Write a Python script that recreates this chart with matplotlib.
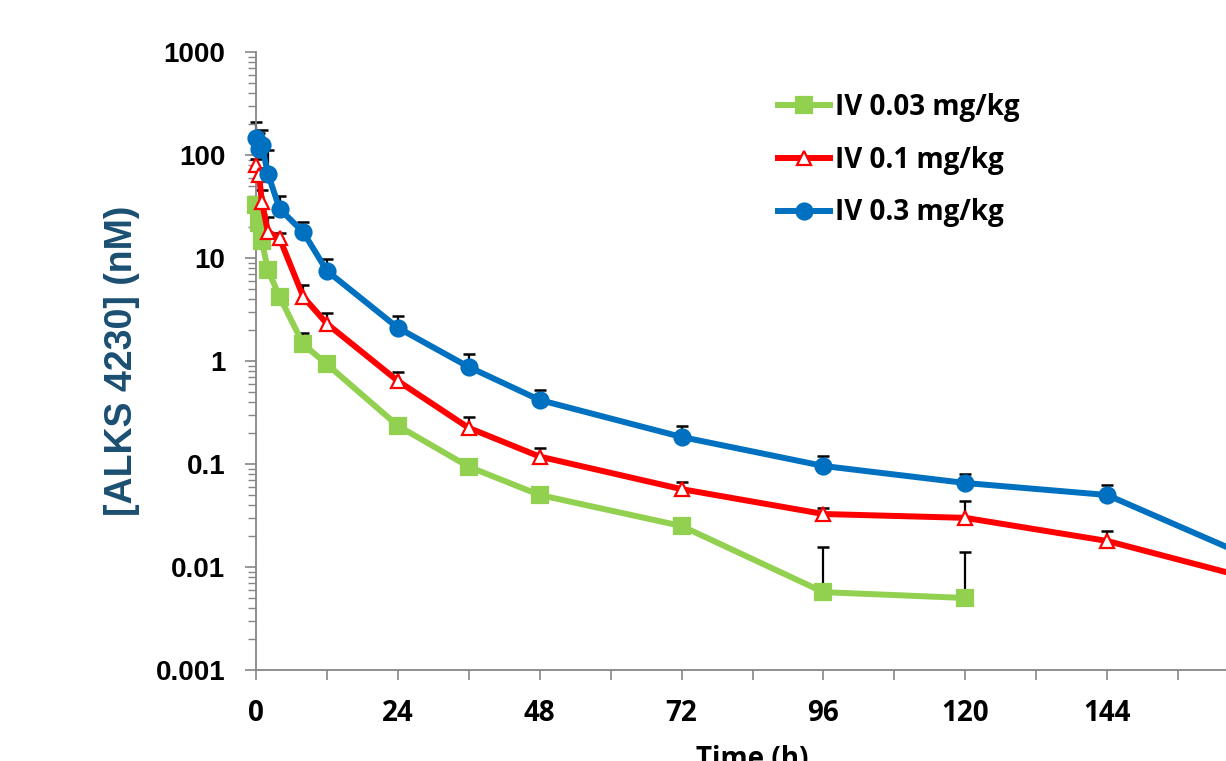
import numpy as np
import matplotlib.pyplot as plt
from matplotlib.ticker import FixedLocator, LogLocator, NullFormatter

# sampling times (h)
t_low = [0.083, 0.5, 1, 2, 4, 8, 12, 24, 36, 48, 72, 96, 120]
t_all = [0.083, 0.5, 1, 2, 4, 8, 12, 24, 36, 48, 72, 96, 120, 144, 168]

# IV 0.03 mg/kg
c_003 = [33, 22, 14.5, 7.7, 4.2, 1.45, 0.93, 0.235, 0.094, 0.050, 0.025, 0.0057, 0.005]
sd_003 = [4, 3, 2, 1, 0.5, 0.42, 0.1, 0.01, 0.005, 0.009, 0.003, 0.0099, 0.0089]

# IV 0.1 mg/kg
c_01 = [80, 64, 35, 18, 15.5, 4.2, 2.3, 0.64, 0.224, 0.118, 0.057, 0.0327, 0.030, 0.0179, 0.0078]
sd_01 = [12, 10, 11, 7, 2, 1.3, 0.65, 0.14, 0.064, 0.024, 0.01, 0.005, 0.0137, 0.0045, 0.002]

# IV 0.3 mg/kg
c_03 = [145, 115, 125, 66, 30, 17.8, 7.5, 2.1, 0.875, 0.418, 0.183, 0.0957, 0.0654, 0.050, 0.0126]
sd_03 = [66, 50, 50, 46, 10, 4.5, 2.2, 0.66, 0.3, 0.1, 0.05, 0.024, 0.015, 0.0125, 0.003]

x_ticks = [0, 24, 48, 72, 96, 120, 144, 168]
x_ticklabels = ["0", "24", "48", "72", "96", "120", "144", ""]

series = [
    ("IV 0.03 mg/kg", t_low, c_003, sd_003, "#92D050", "s", "#92D050"),
    ("IV 0.1 mg/kg", t_all, c_01, sd_01, "#FF0000", "^", "white"),
    ("IV 0.3 mg/kg", t_all, c_03, sd_03, "#0070C0", "o", "#0070C0"),
]

fig = plt.figure(figsize=(12.26, 7.61), dpi=100)
ax = fig.add_axes([256 / 1226, 91 / 761, 993 / 1226, 618 / 761])

for label, t, c, sd, color, marker, face in series:
    t = np.array(t)
    c = np.array(c)
    sd = np.array(sd)
    # upper error bars only
    ax.vlines(t, c, c + sd, color="black", lw=1.6, zorder=2, clip_on=False)
    ax.plot(t, c + sd, linestyle="none", marker="_", ms=9, mew=1.8,
            color="black", zorder=2, clip_on=False)
    ax.plot(t, c, color=color, lw=4.3, marker=marker, ms=11.5 if marker != "^" else 10.5,
            mfc=face, mec=color, mew=1.6, label=label, zorder=3, clip_on=False)

ax.set_yscale("log")
ax.set_ylim(0.001, 1000)
ax.set_xlim(0, 168)

ax.yaxis.set_major_locator(FixedLocator([0.001, 0.01, 0.1, 1, 10, 100, 1000]))
ax.set_yticklabels(["0.001", "0.01", "0.1", "1", "10", "100", "1000"])
ax.yaxis.set_minor_locator(LogLocator(base=10, subs=np.arange(2, 10)))
ax.yaxis.set_minor_formatter(NullFormatter())

ax.set_xticks(x_ticks)
ax.set_xticklabels(x_ticklabels)
ax.set_xticks(np.arange(12, 169, 24), minor=True)

for s in ["top", "right"]:
    ax.spines[s].set_visible(False)
for s in ["left", "bottom"]:
    ax.spines[s].set_color("#868686")
    ax.spines[s].set_linewidth(1.3)

ax.tick_params(axis="y", which="major", direction="out", length=8, width=1.2,
               color="#868686", pad=14)
ax.tick_params(axis="y", which="minor", direction="out", length=6, width=1.0,
               color="#868686")
ax.tick_params(axis="x", which="both", direction="out", length=7, width=1.2,
               color="#868686", pad=14)

for lab in ax.get_yticklabels():
    lab.set_fontfamily("Liberation Sans")
    lab.set_fontweight("bold")
    lab.set_fontsize(20)
for lab in ax.get_xticklabels():
    lab.set_fontfamily("Open Sans")
    lab.set_fontweight("bold")
    lab.set_fontsize(20)

ax.set_ylabel("[ALKS 4230] (nM)", fontfamily="Liberation Sans", fontweight="bold",
              fontsize=27, color="#1B4F72")
ax.yaxis.set_label_coords(-0.117, 0.5)
ax.set_xlabel("Time (h)", fontfamily="Open Sans", fontweight="bold", fontsize=20,
              labelpad=12)

leg = ax.legend(loc="upper left", bbox_to_anchor=(0.5065, 0.965), frameon=False,
                prop={"family": "Open Sans", "weight": "bold", "size": 20},
                handlelength=1.85, handletextpad=0.2, labelspacing=0.85,
                borderaxespad=0.3)

fig.savefig("out.png", dpi=100)
